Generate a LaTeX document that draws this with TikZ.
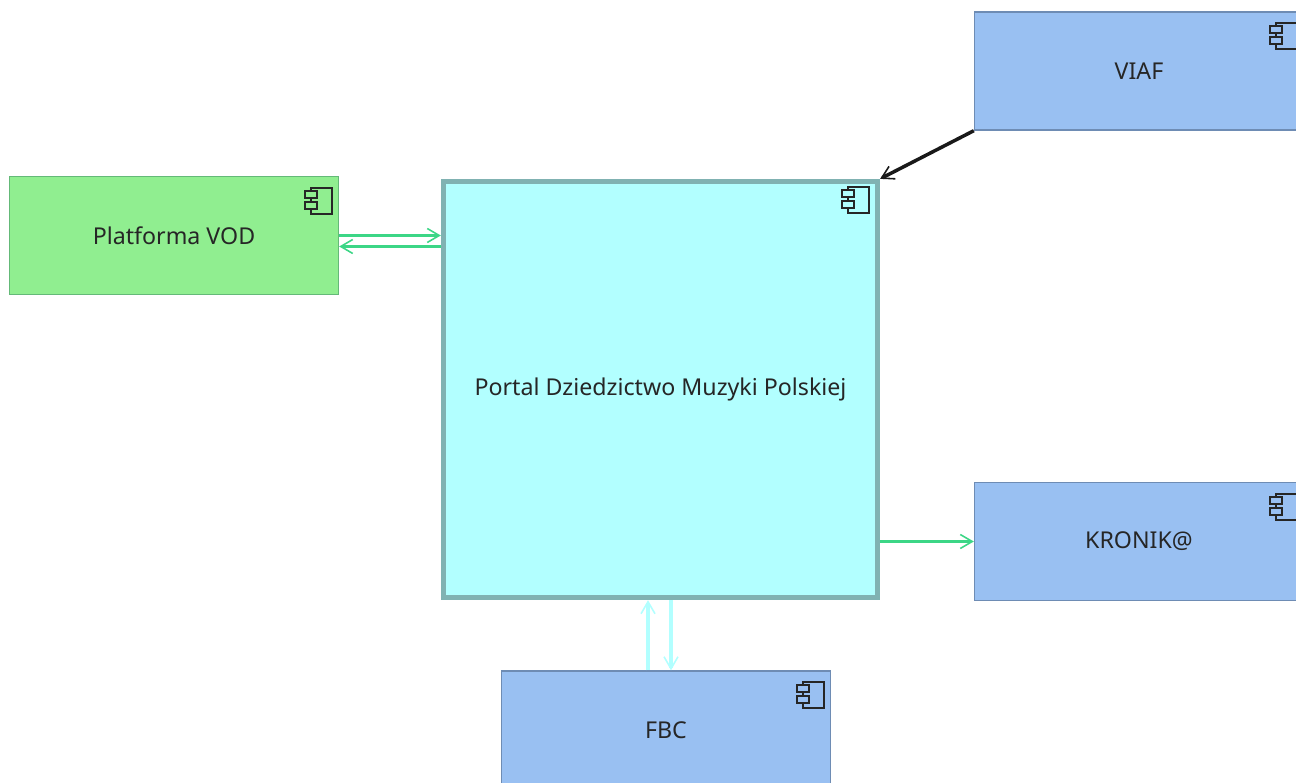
\documentclass[tikz,border=0pt]{standalone}
\usepackage{fontspec}
\setmainfont{Noto Sans}
\usetikzlibrary{arrows.meta}
\definecolor{portalfill}{RGB}{178,255,255}
\definecolor{portaledge}{RGB}{128,178,178}
\definecolor{vodfill}{RGB}{144,238,144}
\definecolor{vodedge}{RGB}{100,185,120}
\definecolor{extfill}{RGB}{153,192,242}
\definecolor{extedge}{RGB}{110,140,180}
\definecolor{flowgreen}{RGB}{60,214,134}
\tikzset{
    comp/.style={draw, minimum width=6.58cm, minimum height=2.36cm, inner sep=0pt, line width=0.8pt, text=black!85, font=\fontsize{13.2}{15}\selectfont},
    extcomp/.style={comp, fill=extfill, draw=extedge},
    flow/.style={line width=2pt, -{Straight Barb[length=2.4mm, width=2.8mm, line width=0.9pt]}},
    pics/compicon/.style={code={
        \draw[line width=1.1pt, black!85] (-21,0) rectangle (0,26);
        \draw[line width=1.1pt, black!85, fill=#1] (-27,3) rectangle (-15,10);
        \draw[line width=1.1pt, black!85, fill=#1] (-27,14) rectangle (-15,21);
    }}
}

\begin{document}
\begin{tikzpicture}[x=0.02cm, y=-0.02cm]
    \useasboundingbox (0,0) rectangle (1296,783);
    % Central system
    \node[comp, fill=portalfill, draw=portaledge, line width=3.1pt, minimum width=8.68cm, minimum height=8.32cm] (portal) at (660.5,389.5) {\raisebox{-0.6pt}{Portal Dziedzictwo Muzyki Polskiej}};
    % Neighbours
    \node[comp, fill=vodfill, draw=vodedge] (vod) at (174,235.5) {Platforma VOD};
    \node[extcomp] (viaf) at (1139,71) {VIAF};
    \node[extcomp] (kronik) at (1139,541.5) {KRONIK@};
    \node[extcomp] (fbc) at (666,730) {FBC};
    % Icons
    \pic at ([xshift=-0.14cm, yshift=-0.24cm]vod.north east) {compicon=vodfill};
    \pic at ([xshift=-0.22cm, yshift=-0.16cm]portal.north east) {compicon=portalfill};
    \pic at ([xshift=-0.14cm, yshift=-0.24cm]viaf.north east) {compicon=extfill};
    \pic at ([xshift=-0.14cm, yshift=-0.24cm]kronik.north east) {compicon=extfill};
    \pic at ([xshift=-0.14cm, yshift=-0.24cm]fbc.north east) {compicon=extfill};
    % Offset ends of the parallel connectors
    \coordinate (vodback) at ([yshift=-0.22cm]vod.east);
    \coordinate (fbcup) at ([xshift=-0.36cm]fbc.north);
    \coordinate (fbcdown) at ([xshift=0.1cm]fbc.north);
    % Connectors
    \draw[flow, flowgreen] (vod.east) -- (vod.east -| portal.west);
    \draw[flow, flowgreen] (vodback -| portal.west) -- (vodback);
    \draw[flow, flowgreen] (portal.east |- kronik.west) -- (kronik.west);
    \draw[flow, portalfill] (fbcup) -- (fbcup |- portal.south);
    \draw[flow, portalfill] (fbcdown |- portal.south) -- (fbcdown);
    \draw[flow, black!90] (viaf.south west) -- (portal.north east);
\end{tikzpicture}
\end{document}
